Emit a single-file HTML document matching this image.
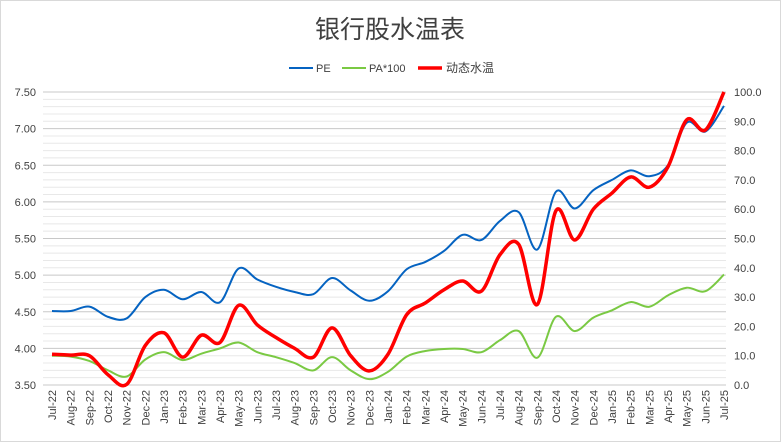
<!DOCTYPE html>
<html><head><meta charset="utf-8"><style>
body{margin:0;background:#fff;}
svg{display:block;font-family:"Liberation Sans","Noto Sans CJK SC",sans-serif;}
</style></head><body>
<svg id="chart" width="781" height="442">
<rect x="0.5" y="0.5" width="780" height="441" fill="#fff" stroke="#d9d9d9"/>
<text x="390" y="38" text-anchor="middle" font-size="25" fill="#404040">银行股水温表</text>
<g>
<g><line x1="289" y1="68" x2="313" y2="68" stroke="#0563c1" stroke-width="2"/><text x="316" y="72" font-size="11" fill="#404040">PE</text></g>
<g><line x1="342" y1="68" x2="366" y2="68" stroke="#7ac943" stroke-width="2"/><text x="369" y="72" font-size="11" fill="#404040">PA*100</text></g>
<g><line x1="418" y1="68" x2="442" y2="68" stroke="#ff0000" stroke-width="3.5"/><text x="446" y="72" font-size="12" fill="#404040">动态水温</text></g>
</g>
<g id="grid"></g><g id="axes"></g><g id="series"></g>
</svg>
<script>
const categories=["Jul-22","Aug-22","Sep-22","Oct-22","Nov-22","Dec-22","Jan-23","Feb-23","Mar-23","Apr-23","May-23","Jun-23","Jul-23","Aug-23","Sep-23","Oct-23","Nov-23","Dec-23","Jan-24","Feb-24","Mar-24","Apr-24","May-24","Jun-24","Jul-24","Aug-24","Sep-24","Oct-24","Nov-24","Dec-24","Jan-25","Feb-25","Mar-25","Apr-25","May-25","Jun-25","Jul-25"];
const peValues=[4.51,4.51,4.57,4.43,4.41,4.70,4.80,4.67,4.77,4.63,5.09,4.94,4.84,4.77,4.74,4.96,4.79,4.65,4.78,5.08,5.18,5.33,5.55,5.48,5.74,5.86,5.35,6.14,5.91,6.16,6.30,6.43,6.35,6.50,7.08,6.96,7.31];
const paValues=[10,9.7,8.2,5,2.9,8.7,11.2,8.5,10.7,12.5,14.5,11.2,9.5,7.5,5,9.5,5,2,4.5,9.7,11.6,12.3,12.3,11.2,15.3,18.4,9.3,23.3,18.4,23,25.5,28.3,26.7,30.6,33.2,32,37.7];
const tempValues=[10.5,10.2,10,3.5,0.2,13.5,17.8,9.5,17,14.5,27.2,20.5,16.2,12.5,9.5,19.5,10,4.8,10.5,24,28,32.5,35.5,32,44.5,48,27.5,59.5,49.5,60,65.5,71,67.5,74.5,90.5,87,100];
const leftTicks=[3.5,4.0,4.5,5.0,5.5,6.0,6.5,7.0,7.5];
const rightTicks=[0,10,20,30,40,50,60,70,80,90,100];
const NS="http://www.w3.org/2000/svg";
const X0=52,X1=724,YT=92,YB=385,PL=43,PR=726;
const xs=i=>X0+(X1-X0)*i/(categories.length-1);
const yl=v=>YB-(v-3.5)/(7.5-3.5)*(YB-YT);
const yr=v=>YB-v/100*(YB-YT);
function mk(tag,attrs,parent){const e=document.createElementNS(NS,tag);for(const k in attrs)e.setAttribute(k,attrs[k]);parent.appendChild(e);return e;}
const grid=document.getElementById('grid'),axes=document.getElementById('axes'),series=document.getElementById('series');
for(let v=3.5;v<=7.5001;v+=0.1){const y=yl(v);const major=Math.abs(v*2-Math.round(v*2))<0.01;
const l=mk('line',{x1:PL,x2:PR,y1:y,y2:y,stroke:major?'#c8c8c8':'#e8e8e8','stroke-width':1},grid);

}
leftTicks.forEach(v=>{const t=mk('text',{x:36,y:yl(v)+4,'text-anchor':'end','font-size':11,fill:'#404040'},axes);t.textContent=v.toFixed(2);

});
rightTicks.forEach(v=>{const t=mk('text',{x:734,y:yr(v)+4,'font-size':11,fill:'#404040'},axes);t.textContent=v.toFixed(1);

});
categories.forEach((c,i)=>{const x=xs(i)+4,y=390;const t=mk('text',{x:x,y:y,'text-anchor':'end','font-size':11,fill:'#404040',transform:`rotate(-90 ${x} ${y})`},axes);t.textContent=c;

});
function smooth(pts){let d=`M${pts[0][0]},${pts[0][1]}`;for(let i=0;i<pts.length-1;i++){const p0=pts[i-1]||pts[i],p1=pts[i],p2=pts[i+1],p3=pts[i+2]||p2;const t=1/6;
d+=` C${p1[0]+(p2[0]-p0[0])*t},${p1[1]+(p2[1]-p0[1])*t} ${p2[0]-(p3[0]-p1[0])*t},${p2[1]-(p3[1]-p1[1])*t} ${p2[0]},${p2[1]}`;}return d;}
function draw(vals,yf,color,w,name){const p=mk('path',{d:smooth(vals.map((v,i)=>[xs(i),yf(v)])),fill:'none',stroke:color,'stroke-width':w,'stroke-linejoin':'round'},series);

}
draw(peValues,yl,'#0563c1',2,'pe-line');
draw(paValues,yr,'#7ac943',2,'pa-line');
draw(tempValues,yr,'#ff0000',3.5,'water-temp-line');
</script>
</body></html>
